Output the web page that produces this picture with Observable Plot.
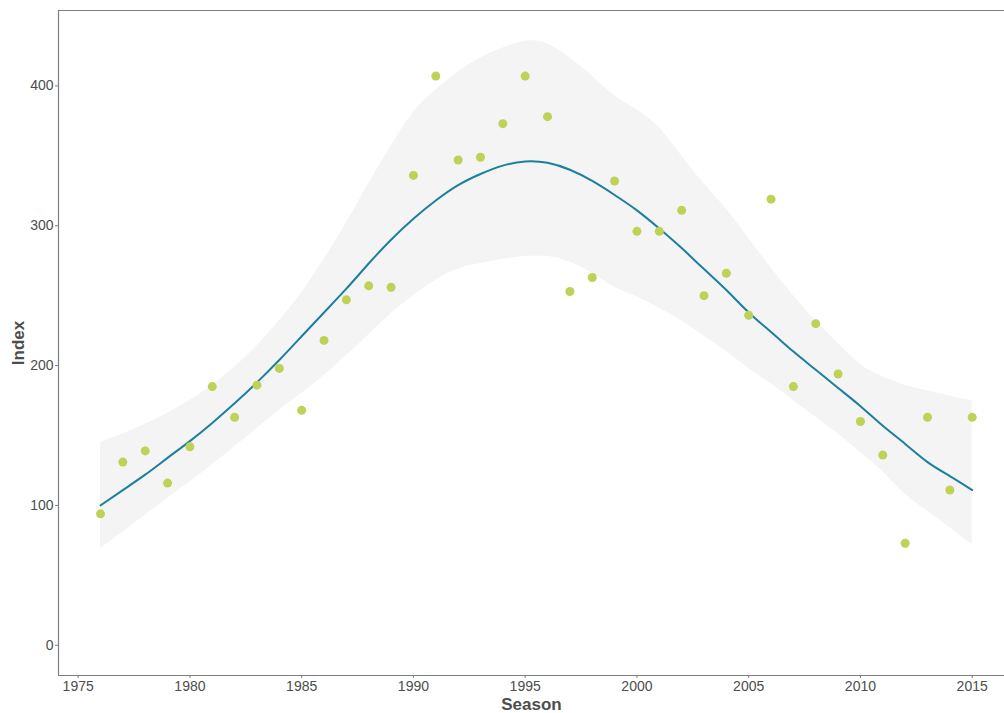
<!DOCTYPE html>
<html>
<head>
<meta charset="utf-8">
<script src="https://cdn.jsdelivr.net/npm/d3@7"></script>
<script src="https://cdn.jsdelivr.net/npm/@observablehq/plot@0.6"></script>
<style>
  html, body { margin: 0; padding: 0; background: #ffffff; }
  #chart svg { display: block; }
</style>
</head>
<body>
<div id="chart"></div>
<script>
// ---- Data ----
const seasons = [1976,1977,1978,1979,1980,1981,1982,1983,1984,1985,1986,1987,1988,1989,1990,1991,1992,1993,1994,1995,1996,1997,1998,1999,2000,2001,2002,2003,2004,2005,2006,2007,2008,2009,2010,2011,2012,2013,2014,2015];
const indexValues = [94,131,139,116,142,185,163,186,198,168,218,247,257,256,336,407,347,349,373,407,378,253,263,332,296,296,311,250,266,236,319,185,230,194,160,136,73,163,111,163];
const fitValues = [100,111,122,134,146,159,173,188,204,221,238,255,273,290,305,318,329,337,343,346,345,340,332,322,311,298,284,269,254,238,224,210,197,184,171,157,144,131,121,111];
const upperValues = [145,151,158,166,175,186,199,214,232,252,276,302,330,357,381,397,410,420,427,432,430,420,407,393,383,370,350,330,312,291,270,250,232,216,201,192,186,182,178,175];
const lowerValues = [69,81,93,105,117,129,142,155,168,180,193,207,222,237,250,261,269,273,276,278,278,274,266,256,249,241,232,221,210,198,187,175,163,151,138,124,108,96,84,72];
const xTicks = [1975,1980,1985,1990,1995,2000,2005,2010,2015];
const yTicks = [0,100,200,300,400];

const observations = seasons.map((s, i) => ({season: s, index: indexValues[i]}));
const smooth = seasons.map((s, i) => ({season: s, fit: fitValues[i], lo: lowerValues[i], hi: upperValues[i]}));

const xDomain = [1974.12, 2016.445];
const yDomain = [-21.6, 453.9];
const axisGrey = "#7f7f7f";
const textGrey = "#4d4d4d";
const font = "'Liberation Sans', Arial, sans-serif";

const chart = Plot.plot({
  width: 1004,
  height: 713,
  marginLeft: 58,
  marginRight: 0,
  marginTop: 10,
  marginBottom: 38,
  style: {fontFamily: font, fontSize: "14px", background: "#ffffff", color: textGrey},
  x: {domain: xDomain, label: null},
  y: {domain: yDomain, label: null},
  marks: [
    Plot.areaY(smooth, {x: "season", y1: "lo", y2: "hi", fill: "#f4f4f4", curve: "natural"}),
    Plot.line(smooth, {x: "season", y: "fit", stroke: "#1b7f9e", strokeWidth: 2, curve: "natural"}),
    Plot.dot(observations, {x: "season", y: "index", r: 4.5, fill: "#bdd256", stroke: "none"}),
    Plot.ruleX([xDomain[0]], {stroke: axisGrey, strokeWidth: 1.2}),
    Plot.ruleY([yDomain[0], yDomain[1]], {stroke: axisGrey, strokeWidth: 1.2}),
    Plot.axisX({ticks: xTicks, tickFormat: d => String(d), tickSize: 3, tickPadding: 3, stroke: axisGrey, fill: textGrey, label: null, fontSize: 14}),
    Plot.axisY({ticks: yTicks, tickSize: 3, tickPadding: 2, stroke: axisGrey, fill: textGrey, label: null, fontSize: 14}),
    Plot.text(["Index"], {text: d => d, frameAnchor: "left", dx: -40, rotate: -90, textAnchor: "middle", lineAnchor: "middle", fontWeight: "bold", fontSize: 17, fill: textGrey}),
    Plot.text(["Season"], {text: d => d, frameAnchor: "bottom", dy: 29, textAnchor: "middle", lineAnchor: "middle", fontWeight: "bold", fontSize: 17, fill: textGrey})
  ]
});
document.getElementById("chart").appendChild(chart);
</script>
</body>
</html>
